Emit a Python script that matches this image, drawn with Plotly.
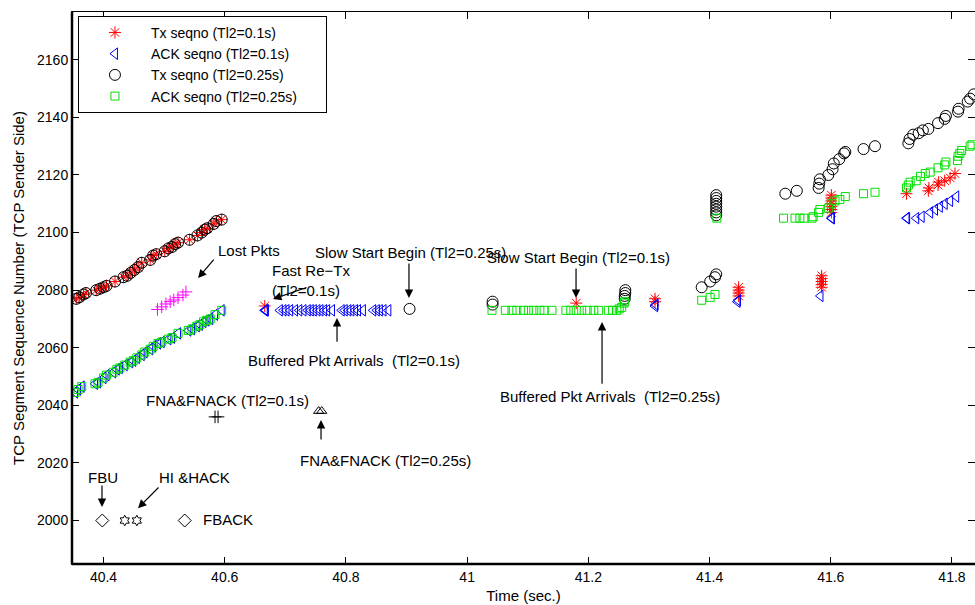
import plotly.graph_objects as go

# ---------------- data ----------------
upper_x = [40.355, 40.360, 40.367, 40.371, 40.388, 40.394, 40.400, 40.405, 40.419, 40.433, 40.439,
           40.445, 40.451, 40.457, 40.463, 40.477, 40.482, 40.487, 40.501, 40.507, 40.513, 40.518,
           40.523, 40.542, 40.555, 40.562, 40.567, 40.571, 40.582, 40.586, 40.595]
upper_y = [2077, 2077.5, 2078.5, 2079, 2080, 2080.5, 2081, 2081.5, 2083, 2084.5, 2085,
           2086, 2087, 2088, 2089.5, 2090.5, 2092, 2092.5, 2093.5, 2094.5, 2095, 2096,
           2096.5, 2097.5, 2099, 2100, 2101, 2101.5, 2103, 2104, 2104.5]

lower_x = [40.353, 40.358, 40.364, 40.386, 40.391, 40.400, 40.405, 40.416, 40.422, 40.427, 40.435,
           40.444, 40.449, 40.455, 40.463, 40.468, 40.477, 40.482, 40.490, 40.496, 40.507, 40.513,
           40.523, 40.540, 40.546, 40.554, 40.559, 40.565, 40.570, 40.576, 40.584, 40.595]
lower_y = [2044.5, 2045.5, 2046.5, 2047.5, 2048, 2049.5, 2050.5, 2051.5, 2052.5, 2053, 2054,
           2055, 2055.5, 2056.5, 2057.5, 2058.5, 2059.5, 2060.5, 2061.5, 2062, 2063, 2063.5,
           2065, 2066, 2066.5, 2067.5, 2068, 2069, 2069.5, 2070, 2071.5, 2073]

# Tx seqno (Tl2=0.1s)
tx01_x = upper_x + [40.666, 41.180, 41.310, 41.310,
                    41.448, 41.448, 41.448, 41.448,
                    41.585, 41.585, 41.585, 41.585, 41.585,
                    41.601, 41.601, 41.601, 41.601, 41.601, 41.601, 41.601,
                    41.725, 41.761, 41.762, 41.777, 41.778, 41.788, 41.797, 41.805]
tx01_y = upper_y + [2074.5, 2075.5, 2076, 2077,
                    2078, 2079, 2080, 2081,
                    2081, 2082, 2083, 2084, 2085,
                    2107, 2108, 2109, 2110, 2111, 2112, 2113,
                    2113.5, 2114.5, 2115.5, 2116.5, 2117.5, 2118, 2119, 2120.5]

# ACK seqno (Tl2=0.1s)
ack01_x = lower_x + [40.666, 40.667, 40.668,
                     40.691, 40.697, 40.702, 40.708, 40.716, 40.723, 40.730, 40.737, 40.742,
                     40.747, 40.753, 40.758, 40.764, 40.769, 40.777, 40.793, 40.798, 40.804,
                     40.809, 40.815, 40.820, 40.828, 40.845, 40.851, 40.856, 40.862, 40.870,
                     41.310, 41.311, 41.446, 41.447, 41.583, 41.601, 41.602,
                     41.725, 41.726, 41.741, 41.750, 41.764, 41.772, 41.780, 41.788, 41.797, 41.807]
ack01_y = lower_y + [2073, 2073, 2073,
                     2073, 2073, 2073, 2073, 2073, 2073, 2073, 2073, 2073,
                     2073, 2073, 2073, 2073, 2073, 2073, 2073, 2073, 2073,
                     2073, 2073, 2073, 2073, 2073, 2073, 2073, 2073, 2073,
                     2074.5, 2075, 2076, 2076.5, 2078, 2105, 2105,
                     2105, 2105, 2105, 2105.5, 2107, 2108, 2109, 2110, 2111, 2112.5]

# Tx seqno (Tl2=0.25s)
tx025_x = upper_x + [40.905, 41.042, 41.042, 41.260, 41.260, 41.261, 41.261,
                     41.387, 41.401, 41.409, 41.411,
                     41.411, 41.411, 41.411, 41.411, 41.411, 41.411, 41.411, 41.411,
                     41.525, 41.544, 41.580, 41.581, 41.582, 41.596, 41.603, 41.605,
                     41.614, 41.622, 41.624, 41.654, 41.673,
                     41.728, 41.730, 41.736, 41.745, 41.752, 41.761, 41.777, 41.788,
                     41.790, 41.810, 41.811, 41.826, 41.830, 41.836]
tx025_y = upper_y + [2073.5, 2075, 2076, 2077, 2078, 2079, 2080,
                     2081, 2083, 2084.5, 2085.5,
                     2106, 2107, 2108, 2109, 2110, 2111, 2112, 2113,
                     2113.5, 2114.5, 2115.5, 2117, 2118.5, 2120, 2122, 2124,
                     2125.5, 2127.5, 2128, 2129, 2130,
                     2131, 2132.5, 2134, 2134.5, 2135.5, 2136, 2138, 2139.5,
                     2140.5, 2142, 2143, 2145.5, 2146.5, 2148]

# ACK seqno (Tl2=0.25s)
ack025_x = lower_x + [41.041, 41.063, 41.074, 41.082, 41.093, 41.101, 41.110, 41.120, 41.127,
                      41.140, 41.163, 41.171, 41.180, 41.189, 41.198, 41.209, 41.217, 41.233,
                      41.240, 41.247, 41.251, 41.255, 41.259, 41.260,
                      41.387, 41.401, 41.409, 41.412,
                      41.522, 41.541, 41.549, 41.556, 41.569, 41.571, 41.580, 41.582, 41.596,
                      41.601, 41.607, 41.615, 41.624, 41.654, 41.673,
                      41.725, 41.728, 41.731, 41.741, 41.748, 41.756, 41.764, 41.777, 41.788,
                      41.790, 41.809, 41.810, 41.813, 41.816, 41.830, 41.833]
ack025_y = lower_y + [2073, 2073, 2073, 2073, 2073, 2073, 2073, 2073, 2073,
                      2073, 2073, 2073, 2073, 2073, 2073, 2073, 2073, 2073,
                      2073, 2073, 2073.5, 2074, 2075.5, 2076,
                      2076.5, 2077.5, 2078.5, 2105,
                      2105, 2105, 2105, 2105, 2105, 2105.5, 2107, 2108, 2108.5,
                      2110, 2111, 2111.5, 2112.5, 2113.5, 2114,
                      2115.5, 2116.5, 2117.5, 2118, 2119.5, 2120.5, 2121, 2122.5, 2123.5,
                      2124.5, 2125, 2126.5, 2127.5, 2128.5, 2130, 2130.5]

# Lost packets
lost_x = [40.489, 40.496, 40.503, 40.510, 40.516, 40.523, 40.531, 40.536]
lost_y = [2073.3, 2074.2, 2075.2, 2076.0, 2076.6, 2077.4, 2078.3, 2079.4]

# Signalling events
fna01_x = [40.584, 40.589]
fna01_y = [2036, 2036]
fna025_x = [40.755, 40.760]
fna025_y = [2038, 2038]
diamond_x = [40.398, 40.534]
diamond_y = [2000, 2000]
hi_x = [40.435, 40.455]
hi_y = [2000, 2000]

x_ticks = [40.4, 40.6, 40.8, 41.0, 41.2, 41.4, 41.6, 41.8]
x_tick_text = ["40.4", "40.6", "40.8", "41", "41.2", "41.4", "41.6", "41.8"]
y_ticks = [2000, 2020, 2040, 2060, 2080, 2100, 2120, 2140, 2160]

FONT = "Liberation Sans, Arial, Helvetica, sans-serif"
PAD = "\u00a0" * 6

fig = go.Figure()

fig.add_trace(go.Scatter(x=tx01_x, y=tx01_y, mode="markers", name="Tx seqno (Tl2=0.1s)" + PAD,
                         marker=dict(symbol="asterisk-open", size=10, color="red",
                                     line=dict(color="red", width=1))))
fig.add_trace(go.Scatter(x=ack01_x, y=ack01_y, mode="markers", name="ACK seqno (Tl2=0.1s)" + PAD,
                         marker=dict(symbol="triangle-left-open", size=10, color="blue",
                                     line=dict(color="blue", width=1))))
fig.add_trace(go.Scatter(x=tx025_x, y=tx025_y, mode="markers", name="Tx seqno (Tl2=0.25s)" + PAD,
                         marker=dict(symbol="circle-open", size=11, color="black",
                                     line=dict(color="black", width=1))))
fig.add_trace(go.Scatter(x=ack025_x, y=ack025_y, mode="markers", name="ACK seqno (Tl2=0.25s)" + PAD,
                         marker=dict(symbol="square-open", size=8, color="#00e000",
                                     line=dict(color="#00e000", width=1))))
fig.add_trace(go.Scatter(x=lost_x, y=lost_y, mode="markers", showlegend=False,
                         marker=dict(symbol="cross-thin-open", size=9, color="magenta",
                                     line=dict(color="magenta", width=1))))
fig.add_trace(go.Scatter(x=fna01_x, y=fna01_y, mode="markers", showlegend=False,
                         marker=dict(symbol="cross-thin-open", size=9, color="black",
                                     line=dict(color="black", width=1))))
fig.add_trace(go.Scatter(x=fna025_x, y=fna025_y, mode="markers", showlegend=False,
                         marker=dict(symbol="triangle-up-open", size=9, color="black",
                                     line=dict(color="black", width=1))))
fig.add_trace(go.Scatter(x=diamond_x, y=diamond_y, mode="markers", showlegend=False,
                         marker=dict(symbol="diamond-open", size=10, color="black",
                                     line=dict(color="black", width=1))))
fig.add_trace(go.Scatter(x=hi_x, y=hi_y, mode="markers", showlegend=False,
                         marker=dict(symbol="hexagram-open", size=8, color="black",
                                     line=dict(color="black", width=1))))

# text labels
texts = [
    ("Lost Pkts", 40.5856, 2093.9, "left"),
    ("Fast Re\u2212Tx<br>(Tl2=0.1s)", 40.6747, 2083.5, "left"),
    ("Slow Start Begin (Tl2=0.25s)", 40.9058, 2093.2, "center"),
    ("Buffered Pkt Arrivals  (Tl2=0.1s)", 40.8125, 2055.7, "center"),
    ("Slow Start Begin (Tl2=0.1s)", 41.183, 2091.5, "center"),
    ("Buffered Pkt Arrivals  (Tl2=0.25s)", 41.2358, 2042.9, "center"),
    ("FNA&FNACK (Tl2=0.1s)", 40.6046, 2041.8, "center"),
    ("FNA&FNACK (Tl2=0.25s)", 40.866, 2021.0, "center"),
    ("FBU", 40.3992, 2015.1, "center"),
    ("HI &HACK", 40.5493, 2015.1, "center"),
    ("FBACK", 40.5609, 2000.5, "left"),
]
for t, x, y, anc in texts:
    fig.add_annotation(x=x, y=y, text=t, showarrow=False, xanchor=anc, yanchor="middle",
                       align="left", font=dict(family=FONT, size=15, color="black"))

# arrows: (head_x, head_y, tail_x, tail_y)
arrows = [
    (40.556, 2084.2, 40.584, 2091.1),
    (40.6797, 2076.9, 40.7374, 2081.1),
    (40.904, 2077.3, 40.904, 2089.8),
    (40.7853, 2070.3, 40.7853, 2061.6),
    (41.1797, 2077.3, 41.1797, 2088.0),
    (41.2226, 2068.9, 41.2226, 2047.0),
    (40.7589, 2034.9, 40.7589, 2027.6),
    (40.3975, 2004.7, 40.3975, 2012.7),
    (40.4569, 2004.3, 40.4932, 2012.0),
]
for hx, hy, tx, ty in arrows:
    fig.add_annotation(x=hx, y=hy, ax=tx, ay=ty, xref="x", yref="y", axref="x", ayref="y",
                       text="", showarrow=True, arrowhead=2, arrowsize=1.4, arrowwidth=1.2,
                       arrowcolor="black")

fig.update_layout(
    width=975, height=605,
    margin=dict(l=72, r=0, t=12, b=41),
    paper_bgcolor="white", plot_bgcolor="white",
    font=dict(family=FONT, size=14, color="black"),
    showlegend=True,
    legend=dict(x=0.0066, y=0.993, xanchor="left", yanchor="top",
                bgcolor="white", bordercolor="black", borderwidth=1,
                font=dict(family=FONT, size=14, color="black"),
                itemwidth=62, tracegroupgap=0),
    xaxis=dict(range=[40.348, 41.838], tickvals=x_ticks, ticktext=x_tick_text,
               ticks="inside", ticklen=7, tickcolor="black", showgrid=False, zeroline=False,
               showline=True, linecolor="black", linewidth=1, mirror="ticks",
               title=dict(text="Time (sec.)", font=dict(family=FONT, size=15), standoff=6),
               tickfont=dict(family=FONT, size=14)),
    yaxis=dict(range=[1984.9, 2176.6], tickvals=y_ticks,
               ticks="inside", ticklen=7, tickcolor="black", showgrid=False, zeroline=False,
               showline=True, linecolor="black", linewidth=1, mirror="ticks",
               title=dict(text="TCP Segment Sequence Number (TCP Sender Side)",
                          font=dict(family=FONT, size=15), standoff=8),
               tickfont=dict(family=FONT, size=14)),
)
fig.add_shape(type="line", xref="paper", yref="paper", x0=0, x1=0, y0=0, y1=1,
              line=dict(color="black", width=2.5))
fig.add_shape(type="line", xref="paper", yref="paper", x0=0, x1=1, y0=0, y1=0,
              line=dict(color="black", width=2.5))

fig.write_html("out.html", post_script="document.body.style.margin='0px';",
               config={"displayModeBar": False})
